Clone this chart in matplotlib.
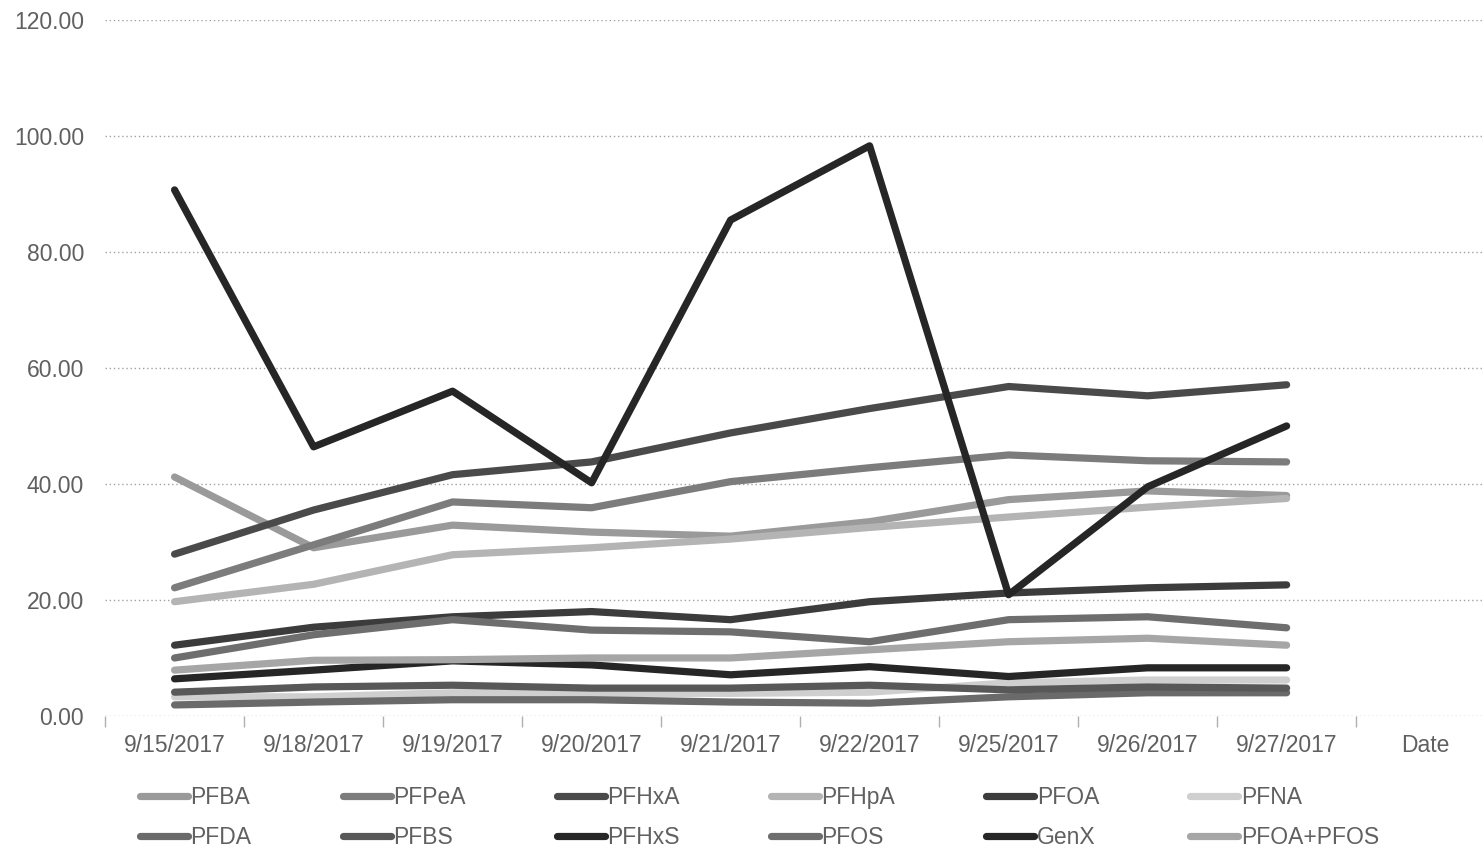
import matplotlib
matplotlib.use("Agg")
import matplotlib.pyplot as plt
import numpy as np

plt.rcParams['font.family'] = ['Liberation Sans', 'DejaVu Sans']

# sampling dates plus the trailing "Date" axis label slot
dates = ['9/15/2017', '9/18/2017', '9/19/2017', '9/20/2017', '9/21/2017',
         '9/22/2017', '9/25/2017', '9/26/2017', '9/27/2017']
x_labels = dates + ['Date']

# concentrations per compound
PFBA = [41.2, 29.0, 32.9, 31.7, 31.0, 33.5, 37.3, 38.8, 38.0]
PFPeA = [22.1, 29.5, 36.9, 35.9, 40.4, 42.8, 45.0, 44.0, 43.8]
PFHxA = [27.9, 35.5, 41.6, 43.8, 48.8, 53.0, 56.8, 55.2, 57.1]
PFHpA = [19.7, 22.7, 27.8, 29.0, 30.5, 32.5, 34.3, 36.0, 37.5]
PFOA = [12.2, 15.3, 17.1, 18.0, 16.6, 19.7, 21.2, 22.1, 22.6]
PFNA = [3.3, 3.3, 4.0, 3.9, 3.9, 4.1, 5.7, 6.2, 6.2]
PFDA = [1.9, 2.4, 2.8, 2.8, 2.4, 2.2, 3.3, 4.0, 4.0]
PFBS = [4.1, 5.0, 5.3, 4.8, 4.8, 5.3, 4.5, 5.0, 4.8]
PFHxS = [6.4, 7.9, 9.5, 8.8, 7.1, 8.5, 6.8, 8.3, 8.3]
PFOS = [10.0, 14.0, 16.6, 14.8, 14.5, 12.8, 16.6, 17.1, 15.2]
GenX = [90.7, 46.4, 56.0, 40.2, 85.5, 98.3, 20.9, 39.5, 50.0]
PFOA_PFOS = [7.9, 9.6, 9.7, 10.0, 10.0, 11.4, 12.8, 13.4, 12.2]

names = ['PFBA', 'PFPeA', 'PFHxA', 'PFHpA', 'PFOA', 'PFNA',
         'PFDA', 'PFBS', 'PFHxS', 'PFOS', 'GenX', 'PFOA+PFOS']
series = [PFBA, PFPeA, PFHxA, PFHpA, PFOA, PFNA,
          PFDA, PFBS, PFHxS, PFOS, GenX, PFOA_PFOS]
shades = ['#9a9a9a', '#7c7c7c', '#4a4a4a', '#b4b4b4', '#3c3c3c', '#cfcfcf',
          '#6a6a6a', '#585858', '#262626', '#6e6e6e', '#262626', '#a6a6a6']

fig = plt.figure(figsize=(14.84, 8.49), dpi=100)
ax = fig.add_axes([0.0708, 0.1567, 0.9292, 0.8198])

x = np.arange(len(dates))
handles = []
for name, vals, c in zip(names, series, shades):
    h, = ax.plot(x, vals, color=c, lw=5.2, solid_capstyle='round',
                 solid_joinstyle='round', label=name)
    handles.append(h)

ax.set_xlim(-0.5, 9.42)
ax.set_ylim(0, 120)
ax.set_yticks(np.arange(0, 121, 20))
ax.set_yticklabels([f'{v:.2f}' for v in np.arange(0, 121, 20)])
ax.set_xticks(np.arange(len(x_labels)))
ax.set_xticklabels(x_labels)
ax.set_xticks(np.arange(-0.5, 9.5, 1), minor=True)

ax.grid(axis='y', color='#a0a0a0', linestyle=(0, (1, 2)), linewidth=1.0)
ax.set_axisbelow(True)
for s in ['top', 'right', 'left', 'bottom']:
    ax.spines[s].set_visible(False)
ax.tick_params(axis='y', length=0, pad=15, labelsize=16.5, labelcolor='#606060')
ax.tick_params(axis='x', which='major', length=0, pad=13, labelsize=16.5,
               labelcolor='#606060')
ax.tick_params(axis='x', which='minor', length=8, width=1, color='#b0b0b0')
for t in ax.xaxis.get_minor_ticks():
    t.tick1line.set_linestyle((0, (1, 2)))

# legend rows read left to right, so interleave for column-major fill
order = []
for i in range(6):
    order += [i, i + 6]
fig.legend([handles[i] for i in order], [names[i] for i in order],
           loc='lower left', bbox_to_anchor=(0.0805, -0.0245), ncol=6,
           frameon=False, fontsize=16.5, labelcolor='#606060',
           handlelength=2.1, handletextpad=0.1, columnspacing=3.98,
           labelspacing=0.77)

fig.savefig('out.png', dpi=100)
